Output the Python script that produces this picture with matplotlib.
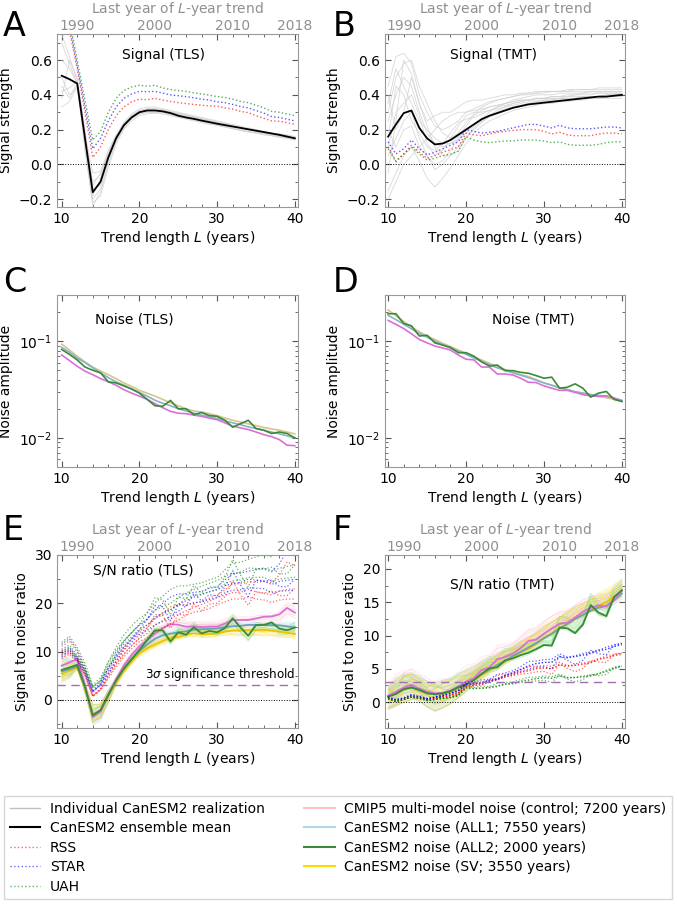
import numpy as np
import matplotlib
matplotlib.use("Agg")
import matplotlib.pyplot as plt
from matplotlib.lines import Line2D
from matplotlib.ticker import AutoMinorLocator
from matplotlib.transforms import offset_copy

# trend length L (years)
trend_length = list(range(10, 41))

# --- signal strength, TLS (panel A) ---
mean_tls = [0.51, 0.49, 0.465, 0.15, -0.16, -0.10, 0.04, 0.15, 0.225, 0.27, 0.30, 0.31, 0.31, 0.305, 0.295, 0.28,
            0.27, 0.262, 0.252, 0.243, 0.234, 0.226, 0.218, 0.21, 0.202, 0.194, 0.186, 0.178, 0.17, 0.16, 0.15]
rss_tls = [0.80, 0.77, 0.55, 0.30, 0.04, 0.10, 0.20, 0.28, 0.33, 0.36, 0.375, 0.372, 0.38, 0.37, 0.362, 0.355,
           0.35, 0.345, 0.34, 0.337, 0.335, 0.325, 0.318, 0.305, 0.298, 0.28, 0.265, 0.25, 0.248, 0.24, 0.23]
star_tls = [0.83, 0.80, 0.57, 0.33, 0.09, 0.15, 0.25, 0.33, 0.38, 0.405, 0.42, 0.418, 0.42, 0.41, 0.40, 0.395,
            0.39, 0.383, 0.375, 0.37, 0.36, 0.355, 0.345, 0.333, 0.325, 0.31, 0.295, 0.275, 0.27, 0.26, 0.25]
uah_tls = [0.86, 0.83, 0.60, 0.37, 0.14, 0.19, 0.30, 0.38, 0.425, 0.445, 0.455, 0.45, 0.455, 0.44, 0.43, 0.425,
           0.42, 0.412, 0.405, 0.398, 0.39, 0.385, 0.375, 0.362, 0.355, 0.34, 0.325, 0.305, 0.30, 0.29, 0.28]
runs_tls = [
    [0.75, 0.62, 0.48, 0.10, -0.24, -0.16, 0.00, 0.13, 0.21, 0.26, 0.29, 0.30, 0.30, 0.30, 0.29, 0.28,
     0.27, 0.26, 0.25, 0.24, 0.23, 0.22, 0.21, 0.20, 0.19, 0.185, 0.18, 0.17, 0.16, 0.155, 0.145],
    [0.33, 0.36, 0.45, 0.18, -0.05, -0.04, 0.08, 0.17, 0.24, 0.29, 0.32, 0.33, 0.33, 0.32, 0.31, 0.30,
     0.29, 0.28, 0.27, 0.26, 0.25, 0.24, 0.23, 0.22, 0.21, 0.20, 0.19, 0.18, 0.175, 0.17, 0.16],
    [0.60, 0.55, 0.47, 0.12, -0.20, -0.14, 0.02, 0.14, 0.22, 0.27, 0.30, 0.31, 0.31, 0.31, 0.30, 0.29,
     0.28, 0.27, 0.26, 0.25, 0.24, 0.23, 0.22, 0.21, 0.20, 0.19, 0.18, 0.175, 0.165, 0.16, 0.15],
    [0.42, 0.44, 0.48, 0.16, -0.10, -0.06, 0.06, 0.16, 0.23, 0.28, 0.31, 0.32, 0.32, 0.31, 0.30, 0.29,
     0.28, 0.27, 0.26, 0.25, 0.24, 0.23, 0.22, 0.21, 0.20, 0.19, 0.185, 0.175, 0.17, 0.16, 0.155],
    [0.50, 0.40, 0.44, 0.14, -0.14, -0.12, 0.03, 0.15, 0.22, 0.27, 0.29, 0.30, 0.30, 0.295, 0.285, 0.275,
     0.265, 0.255, 0.245, 0.235, 0.225, 0.215, 0.205, 0.195, 0.185, 0.18, 0.17, 0.165, 0.155, 0.15, 0.14],
    [0.38, 0.60, 0.50, 0.20, -0.18, -0.08, 0.05, 0.155, 0.23, 0.275, 0.305, 0.315, 0.315, 0.31, 0.30, 0.29,
     0.28, 0.27, 0.26, 0.25, 0.24, 0.23, 0.22, 0.21, 0.20, 0.195, 0.185, 0.18, 0.17, 0.165, 0.155],
    [0.70, 0.58, 0.46, 0.08, -0.22, -0.18, -0.02, 0.12, 0.20, 0.25, 0.28, 0.29, 0.295, 0.29, 0.28, 0.27,
     0.26, 0.25, 0.24, 0.23, 0.225, 0.215, 0.205, 0.195, 0.19, 0.18, 0.175, 0.165, 0.16, 0.15, 0.145],
    [0.45, 0.38, 0.47, 0.17, -0.12, -0.05, 0.07, 0.16, 0.235, 0.28, 0.31, 0.32, 0.32, 0.315, 0.305, 0.295,
     0.285, 0.275, 0.265, 0.255, 0.245, 0.235, 0.225, 0.215, 0.205, 0.20, 0.19, 0.18, 0.175, 0.165, 0.16],
]

# --- signal strength, TMT (panel B) ---
mean_tmt = [0.16, 0.23, 0.295, 0.31, 0.21, 0.15, 0.115, 0.12, 0.14, 0.17, 0.20, 0.23, 0.26, 0.28, 0.295, 0.31,
            0.325, 0.335, 0.345, 0.35, 0.355, 0.36, 0.365, 0.37, 0.375, 0.38, 0.385, 0.39, 0.39, 0.395, 0.40]
rss_tmt = [0.10, 0.02, 0.06, 0.11, 0.07, 0.035, 0.05, 0.07, 0.085, 0.10, 0.18, 0.17, 0.165, 0.175, 0.185, 0.19,
           0.195, 0.20, 0.20, 0.20, 0.19, 0.175, 0.185, 0.17, 0.165, 0.165, 0.165, 0.175, 0.18, 0.18, 0.175]
star_tmt = [0.13, 0.06, 0.09, 0.14, 0.09, 0.055, 0.07, 0.09, 0.11, 0.13, 0.20, 0.19, 0.18, 0.185, 0.19, 0.20,
            0.21, 0.22, 0.23, 0.23, 0.22, 0.21, 0.225, 0.21, 0.205, 0.205, 0.205, 0.21, 0.215, 0.215, 0.21]
uah_tmt = [0.09, 0.015, 0.06, 0.10, 0.06, 0.025, 0.035, 0.05, 0.06, 0.075, 0.16, 0.14, 0.13, 0.125, 0.13, 0.135,
           0.135, 0.14, 0.14, 0.14, 0.135, 0.125, 0.13, 0.115, 0.11, 0.11, 0.11, 0.115, 0.125, 0.13, 0.13]
runs_tmt = [
    [0.45, 0.62, 0.64, 0.58, 0.40, 0.30, 0.22, 0.20, 0.22, 0.25, 0.30, 0.32, 0.34, 0.36, 0.37, 0.38,
     0.39, 0.40, 0.41, 0.41, 0.42, 0.42, 0.42, 0.43, 0.43, 0.43, 0.43, 0.43, 0.43, 0.43, 0.43],
    [-0.15, -0.05, 0.05, 0.10, 0.02, -0.08, -0.13, -0.08, -0.02, 0.05, 0.12, 0.18, 0.22, 0.25, 0.27, 0.29,
     0.31, 0.32, 0.33, 0.34, 0.35, 0.35, 0.36, 0.36, 0.37, 0.37, 0.38, 0.38, 0.38, 0.38, 0.38],
    [0.25, 0.40, 0.50, 0.45, 0.30, 0.18, 0.12, 0.10, 0.12, 0.16, 0.22, 0.28, 0.31, 0.33, 0.34, 0.35,
     0.36, 0.37, 0.37, 0.38, 0.38, 0.39, 0.39, 0.39, 0.40, 0.40, 0.40, 0.41, 0.41, 0.41, 0.41],
    [0.05, 0.15, 0.25, 0.30, 0.15, 0.05, 0.00, 0.02, 0.08, 0.15, 0.20, 0.23, 0.25, 0.27, 0.29, 0.31,
     0.33, 0.34, 0.35, 0.35, 0.36, 0.36, 0.37, 0.37, 0.37, 0.38, 0.38, 0.38, 0.39, 0.39, 0.39],
    [0.35, 0.55, 0.45, 0.35, 0.25, 0.20, 0.15, 0.12, 0.12, 0.14, 0.18, 0.22, 0.26, 0.30, 0.33, 0.35,
     0.37, 0.38, 0.39, 0.40, 0.40, 0.40, 0.41, 0.41, 0.41, 0.41, 0.42, 0.42, 0.42, 0.42, 0.42],
    [0.10, 0.30, 0.35, 0.40, 0.28, 0.12, 0.05, 0.08, 0.15, 0.22, 0.28, 0.30, 0.30, 0.31, 0.32, 0.33,
     0.34, 0.35, 0.36, 0.36, 0.37, 0.37, 0.38, 0.38, 0.38, 0.39, 0.39, 0.39, 0.40, 0.40, 0.40],
    [0.20, 0.10, 0.20, 0.22, 0.10, 0.15, 0.20, 0.25, 0.28, 0.30, 0.30, 0.31, 0.32, 0.33, 0.34, 0.35,
     0.36, 0.37, 0.37, 0.38, 0.38, 0.38, 0.38, 0.39, 0.39, 0.39, 0.39, 0.39, 0.39, 0.39, 0.40],
    [-0.05, 0.25, 0.60, 0.52, 0.35, 0.22, 0.10, 0.05, 0.05, 0.08, 0.15, 0.20, 0.24, 0.28, 0.31, 0.33,
     0.35, 0.36, 0.37, 0.38, 0.38, 0.39, 0.39, 0.40, 0.40, 0.41, 0.41, 0.41, 0.41, 0.41, 0.41],
    [0.30, 0.50, 0.58, 0.60, 0.45, 0.35, 0.25, 0.18, 0.15, 0.18, 0.24, 0.29, 0.33, 0.35, 0.37, 0.38,
     0.39, 0.40, 0.40, 0.41, 0.41, 0.42, 0.42, 0.42, 0.43, 0.43, 0.43, 0.44, 0.44, 0.44, 0.44],
    [-0.20, -0.10, 0.00, 0.05, 0.10, 0.05, -0.03, 0.00, 0.05, 0.10, 0.16, 0.21, 0.25, 0.28, 0.30, 0.32,
     0.33, 0.34, 0.35, 0.36, 0.36, 0.37, 0.37, 0.37, 0.38, 0.38, 0.38, 0.38, 0.39, 0.39, 0.39],
    [0.15, 0.45, 0.40, 0.25, 0.18, 0.10, 0.08, 0.12, 0.18, 0.24, 0.26, 0.27, 0.29, 0.31, 0.33, 0.34,
     0.35, 0.36, 0.37, 0.37, 0.37, 0.38, 0.38, 0.38, 0.38, 0.39, 0.39, 0.39, 0.40, 0.40, 0.40],
    [0.40, 0.20, 0.30, 0.50, 0.35, 0.25, 0.28, 0.30, 0.30, 0.33, 0.36, 0.37, 0.37, 0.38, 0.39, 0.40,
     0.40, 0.41, 0.41, 0.42, 0.42, 0.42, 0.42, 0.42, 0.42, 0.42, 0.42, 0.42, 0.42, 0.42, 0.42],
]

# --- noise amplitude, TLS (panel C) ---
cmip5_tls = [0.072, 0.063, 0.055, 0.049, 0.045, 0.041, 0.038, 0.035, 0.0315, 0.029, 0.027, 0.025, 0.0226,
             0.0205, 0.0188, 0.018, 0.0178, 0.0172, 0.0167, 0.016, 0.0154, 0.0143, 0.0132, 0.0127, 0.0122,
             0.0115, 0.0108, 0.0103, 0.0096, 0.0084, 0.0083]
all1_tls = [0.086, 0.077, 0.067, 0.060, 0.053, 0.047, 0.042, 0.038, 0.035, 0.032, 0.0295, 0.027, 0.0245,
            0.0228, 0.0215, 0.020, 0.019, 0.018, 0.0172, 0.0165, 0.0158, 0.015, 0.0143, 0.0137, 0.013,
            0.0125, 0.012, 0.0115, 0.011, 0.0105, 0.010]
all2_tls = [0.082, 0.073, 0.064, 0.054, 0.050, 0.047, 0.038, 0.037, 0.0345, 0.032, 0.029, 0.025, 0.0215,
            0.0212, 0.0244, 0.020, 0.020, 0.0174, 0.0183, 0.017, 0.0167, 0.0152, 0.0129, 0.014, 0.0152,
            0.0125, 0.012, 0.0111, 0.0115, 0.0111, 0.010]
sv_tls = [0.093, 0.081, 0.070, 0.061, 0.054, 0.049, 0.045, 0.041, 0.037, 0.034, 0.031, 0.029, 0.027,
          0.025, 0.023, 0.0215, 0.020, 0.019, 0.0185, 0.0178, 0.017, 0.016, 0.0152, 0.0146, 0.014,
          0.0134, 0.0128, 0.0124, 0.012, 0.0115, 0.011]

# --- noise amplitude, TMT (panel D) ---
cmip5_tmt = [0.164, 0.149, 0.135, 0.119, 0.104, 0.096, 0.089, 0.085, 0.081, 0.072, 0.065, 0.064, 0.054,
             0.054, 0.0458, 0.0458, 0.0447, 0.0414, 0.0376, 0.0373, 0.0345, 0.0326, 0.031, 0.031, 0.0295,
             0.028, 0.0272, 0.0268, 0.0272, 0.0258, 0.0238]
all1_tmt = [0.185, 0.167, 0.150, 0.134, 0.120, 0.110, 0.100, 0.092, 0.085, 0.079, 0.073, 0.067, 0.062,
            0.057, 0.053, 0.050, 0.047, 0.0445, 0.042, 0.0395, 0.037, 0.035, 0.033, 0.0315, 0.030,
            0.029, 0.028, 0.0275, 0.027, 0.0258, 0.0245]
all2_tmt = [0.192, 0.192, 0.152, 0.144, 0.113, 0.115, 0.096, 0.091, 0.086, 0.076, 0.076, 0.070, 0.061,
            0.0553, 0.0566, 0.0496, 0.0496, 0.0476, 0.0466, 0.044, 0.0414, 0.0424, 0.0326, 0.0334, 0.0362,
            0.0326, 0.0264, 0.029, 0.0302, 0.025, 0.0238]
sv_tmt = [0.210, 0.183, 0.160, 0.140, 0.125, 0.113, 0.104, 0.095, 0.088, 0.081, 0.075, 0.069, 0.064,
          0.059, 0.055, 0.051, 0.048, 0.045, 0.043, 0.040, 0.037, 0.035, 0.033, 0.0315, 0.030,
          0.029, 0.028, 0.027, 0.026, 0.025, 0.024]

top_years = [1990, 2000, 2010, 2018]
first_year = 1978

GRAY = "#909090"
plt.rcParams.update({
    "font.size": 10,
    "axes.edgecolor": "#999999",
    "xtick.direction": "in",
    "ytick.direction": "in",
    "xtick.top": True,
    "ytick.right": True,
    "xtick.color": "#555555",
    "ytick.color": "#555555",
    "xtick.labelcolor": "black",
    "ytick.labelcolor": "black",
    "xtick.major.size": 4,
    "ytick.major.size": 4,
    "xtick.minor.size": 2,
    "ytick.minor.size": 2,
})

fig = plt.figure(figsize=(6.77, 9.06), dpi=100)
W, H = 677, 906


def make_axes(x0, x1, y_top, y_bot):
    return fig.add_axes([x0 / W, 1 - y_bot / H, (x1 - x0) / W, (y_bot - y_top) / H])


axA = make_axes(57, 298, 34, 207)
axB = make_axes(385, 625, 34, 207)
axC = make_axes(57, 298, 295, 467)
axD = make_axes(385, 625, 295, 467)
axE = make_axes(57, 298, 555, 728)
axF = make_axes(385, 625, 555, 728)

L = np.array(trend_length)

noise_style = {
    "cmip5": dict(line="orchid", band="pink"),
    "all1": dict(line="#86b3c8", band="lightblue"),
    "all2": dict(line="#3a8a3a", band="#7fdc7f"),
    "sv": dict(line="#d9c48c", band="gold"),
}
obs_colors = {"rss": "red", "star": "blue", "uah": "green"}


def add_top_axis(ax):
    sec = ax.secondary_xaxis("top", functions=(lambda x: x + first_year, lambda y: y - first_year))
    sec.set_xticks(top_years)
    sec.tick_params(length=0, labelcolor=GRAY, pad=0.5)
    sec.spines["top"].set_visible(False)
    # axis title placed a fixed distance above the frame
    label_tf = offset_copy(ax.transAxes, fig=fig, x=0, y=34, units="dots")
    ax.text(0.5, 1.0, "Last year of $L$-year trend", transform=label_tf, color=GRAY,
            ha="center", va="top")


def style_axes(ax, left_panel):
    ax.set_xlim(9.4 if left_panel else 9.6, 40.4)
    ax.set_xticks([10, 20, 30, 40])
    ax.xaxis.set_minor_locator(AutoMinorLocator(5))
    ax.set_xlabel("Trend length $L$ (years)", labelpad=2)


# signal panels
for ax, runs, mean, obs, title, tx in [
    (axA, runs_tls, mean_tls, (rss_tls, star_tls, uah_tls), "Signal (TLS)", 0.44),
    (axB, runs_tmt, mean_tmt, (rss_tmt, star_tmt, uah_tmt), "Signal (TMT)", 0.45),
]:
    for run in runs:
        ax.plot(L, run, color="#cfcfcf", lw=0.6, alpha=0.8)
    ax.plot(L, mean, color="black", lw=1.3)
    for series, name in zip(obs, ["rss", "star", "uah"]):
        ax.plot(L, series, color=obs_colors[name], ls=":", lw=1.0, alpha=0.65)
    ax.axhline(0, color="black", ls=":", lw=0.7)
    ax.set_ylim(-0.245, 0.75)
    ax.set_yticks([-0.2, 0.0, 0.2, 0.4, 0.6])
    ax.yaxis.set_minor_locator(AutoMinorLocator(2))
    ax.set_ylabel("Signal strength")
    ax.text(tx, 0.88, title, transform=ax.transAxes, ha="center", va="center")
    style_axes(ax, ax is axA)
    add_top_axis(ax)

# noise panels
noise_tls = {"cmip5": cmip5_tls, "all1": all1_tls, "all2": all2_tls, "sv": sv_tls}
noise_tmt = {"cmip5": cmip5_tmt, "all1": all1_tmt, "all2": all2_tmt, "sv": sv_tmt}
for ax, noise, title, tx in [(axC, noise_tls, "Noise (TLS)", 0.32), (axD, noise_tmt, "Noise (TMT)", 0.62)]:
    for key in ["sv", "all1", "cmip5", "all2"]:
        ax.plot(L, noise[key], color=noise_style[key]["line"], lw=1.2)
    ax.set_yscale("log")
    ax.set_ylim(0.005, 0.3)
    ax.set_ylabel("Noise amplitude")
    ax.text(tx, 0.86, title, transform=ax.transAxes, ha="center", va="center")
    style_axes(ax, ax is axC)

# signal-to-noise panels
for ax, runs, mean, obs, noise, title, tpos in [
    (axE, runs_tls, mean_tls, (rss_tls, star_tls, uah_tls), noise_tls, "S/N ratio (TLS)", (0.36, 0.91)),
    (axF, runs_tmt, mean_tmt, (rss_tmt, star_tmt, uah_tmt), noise_tmt, "S/N ratio (TMT)", (0.49, 0.83)),
]:
    for key in ["all1", "cmip5", "all2", "sv"]:
        ratios = np.array(runs) / np.array(noise[key])
        band = noise_style[key]["band"]
        ax.fill_between(L, ratios.min(axis=0), ratios.max(axis=0), color=band, alpha=0.1, lw=0)
        for r in ratios:
            ax.plot(L, r, color=band, lw=0.5, alpha=0.4)
    for key, col in [("sv", "#e8c400"), ("all1", "#6f9fb5"), ("cmip5", "orchid"), ("all2", "#3a8a3a")]:
        ax.plot(L, np.array(mean) / np.array(noise[key]), color=col, lw=1.3)
    for series, name in zip(obs, ["rss", "star", "uah"]):
        for key in ["cmip5", "all1", "all2", "sv"]:
            ax.plot(L, np.array(series) / np.array(noise[key]), color=obs_colors[name], ls=":",
                    lw=0.9, alpha=0.6)
    ax.axhline(0, color="black", ls=":", lw=0.7)
    ax.axhline(3, color="#a070b0", ls=(0, (6, 4)), lw=1.0)
    ax.set_ylabel("Signal to noise ratio")
    ax.text(tpos[0], tpos[1], title, transform=ax.transAxes, ha="center", va="center")
    ax.yaxis.set_minor_locator(AutoMinorLocator(2))
    style_axes(ax, ax is axE)
    add_top_axis(ax)

axE.set_ylim(-5.8, 30)
axE.set_yticks([0, 10, 20, 30])
axE.text(40, 3.6, r"3$\sigma$ significance threshold", ha="right", va="bottom", fontsize=8.6)
axF.set_ylim(-3.9, 22.1)
axF.set_yticks([0, 5, 10, 15, 20])

# panel letters
for letter, x, y in [("A", 3, 27), ("B", 333, 27), ("C", 3, 283), ("D", 333, 283), ("E", 3, 530), ("F", 333, 530)]:
    fig.text(x / W, 1 - y / H, letter, fontsize=24, ha="left", va="center")

handles = [
    Line2D([], [], color="#c0c0c0", lw=1.0),
    Line2D([], [], color="black", lw=1.5),
    Line2D([], [], color="red", ls=":", lw=1.0, alpha=0.6),
    Line2D([], [], color="blue", ls=":", lw=1.0, alpha=0.6),
    Line2D([], [], color="green", ls=":", lw=1.0, alpha=0.6),
    Line2D([], [], color="pink", lw=1.5),
    Line2D([], [], color="lightblue", lw=1.5),
    Line2D([], [], color="#3a8a3a", lw=1.5),
    Line2D([], [], color="gold", lw=1.5),
]
labels = [
    "Individual CanESM2 realization",
    "CanESM2 ensemble mean",
    "RSS",
    "STAR",
    "UAH",
    "CMIP5 multi-model noise (control; 7200 years)",
    "CanESM2 noise (ALL1; 7550 years)",
    "CanESM2 noise (ALL2; 2000 years)",
    "CanESM2 noise (SV; 3550 years)",
]
leg = fig.legend(handles, labels, loc="upper left", ncol=2,
                 bbox_to_anchor=(4 / W, 0, 668 / W, 1 - 796 / H),
                 mode="expand", fancybox=False, edgecolor="#cccccc", fontsize=10, handlelength=2.2,
                 handletextpad=0.7, labelspacing=0.4, borderaxespad=0, borderpad=0.4)
leg.get_frame().set_linewidth(1.0)

fig.savefig("out.png", dpi=100)
